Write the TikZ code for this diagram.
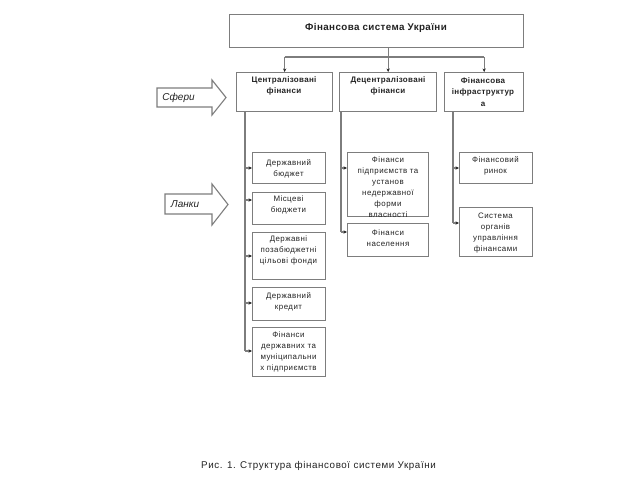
\documentclass[tikz,border=0pt]{standalone}
\usepackage{fontspec}
\setmainfont{Liberation Sans}
\newfontfamily\bxfont[LetterSpace=6]{Liberation Sans}
\newfontfamily\hdfont[LetterSpace=4]{Liberation Sans}
\usetikzlibrary{arrows.meta}
\definecolor{ln}{RGB}{125,125,125}
\definecolor{tx}{RGB}{35,35,35}
\begin{document}
\begin{tikzpicture}[x=1pt,y=-1pt,
  box/.style={draw=ln, line width=1.3pt, inner sep=0pt, anchor=north west},
  txt/.style={inner sep=0pt, align=center, text=tx, font=\bxfont\fontsize{7.9}{11}\selectfont},
  hd/.style={inner sep=0pt, align=center, text=tx, font=\hdfont\bfseries\fontsize{8}{11.5}\selectfont},
  conn/.style={draw=ln, line width=1.2pt, -{Stealth[length=3.5pt,width=3.2pt,color=tx]}},
  wire/.style={draw=ln, line width=1.2pt},
  barrow/.style={draw=ln, line width=1.1pt, fill=white, line join=miter}]
\useasboundingbox (0,0) rectangle (640,480);
\fill[white] (0,0) rectangle (640,480);

% top
\node[box, minimum width=294pt, minimum height=33pt] (top) at (229,14) {};
\node[hd, font=\hdfont\bfseries\fontsize{9.8}{10}\selectfont] (topt) at (376,28) {Фінансова система України};

% level 2
\node[box, minimum width=96pt, minimum height=39pt] (A) at (236,72) {};
\node[box, minimum width=97pt, minimum height=39pt] (B) at (339,72) {};
\node[box, minimum width=79pt, minimum height=39pt] (C) at (444,72) {};
\node[hd] (At) at (284,86) {Централізовані\\фінанси};
\node[hd] (Bt) at (388,86) {Децентралізовані\\фінанси};
\node[hd] (Ct) at (483,92) {Фінансова\\інфраструктур\\а};

\coordinate (bus) at (0,57);
\draw[conn] (top.south -| B.north) -- (B.north);
\draw[wire] (A.north |- bus) -- (C.north |- bus);
\draw[conn] (A.north |- bus) -- (A.north);
\draw[conn] (C.north |- bus) -- (C.north);

% column 1
\node[box, minimum width=73pt, minimum height=31pt] (b1) at (252,152) {};
\node[box, minimum width=73pt, minimum height=32pt] (b2) at (252,192) {};
\node[box, minimum width=73pt, minimum height=47pt] (b3) at (252,232) {};
\node[box, minimum width=73pt, minimum height=33pt] (b4) at (252,287) {};
\node[box, minimum width=73pt, minimum height=49pt] (b5) at (252,327) {};
\node[txt] (b1t) at (288.5,169) {Державний\\бюджет};
\node[txt] (b2t) at (288.5,205) {Місцеві\\бюджети};
\node[txt] (b3t) at (288.5,250) {Державні\\позабюджетні\\цільові фонди};
\node[txt] (b4t) at (288.5,302) {Державний\\кредит};
\node[txt] (b5t) at (288.5,352) {Фінанси\\державних та\\муніципальни\\х підприємств};

\coordinate (c1) at (245,111);
\draw[wire] (c1) -- (c1 |- 0,351);
\draw[conn] (c1 |- 0,168) -- (b1.west |- 0,168);
\draw[conn] (c1 |- 0,200) -- (b2.west |- 0,200);
\draw[conn] (c1 |- 0,256) -- (b3.west |- 0,256);
\draw[conn] (c1 |- 0,303) -- (b4.west |- 0,303);
\draw[conn] (c1 |- 0,351) -- (b5.west |- 0,351);

% column 2
\node[box, minimum width=81pt, minimum height=64pt] (m1) at (347,152) {};
\node[box, minimum width=81pt, minimum height=33pt] (m2) at (347,223) {};
\node[txt] (m1t) at (388,187) {Фінанси\\підприємств та\\установ\\недержавної\\форми\\власності};
\node[txt] (m2t) at (388,238) {Фінанси\\населення};

\coordinate (c2) at (341,111);
\draw[wire] (c2) -- (c2 |- 0,232);
\draw[conn] (c2 |- 0,168) -- (m1.west |- 0,168);
\draw[conn] (c2 |- 0,232) -- (m2.west |- 0,232);

% column 3
\node[box, minimum width=73pt, minimum height=31pt] (r1) at (459,152) {};
\node[box, minimum width=73pt, minimum height=49pt] (r2) at (459,207) {};
\node[txt] (r1t) at (495.5,166) {Фінансовий\\ринок};
\node[txt] (r2t) at (495.5,233) {Система\\органів\\управління\\фінансами};

\coordinate (c3) at (453,111);
\draw[wire] (c3) -- (c3 |- 0,223);
\draw[conn] (c3 |- 0,168) -- (r1.west |- 0,168);
\draw[conn] (c3 |- 0,223) -- (r2.west |- 0,223);

% block arrows
\draw[barrow] (157,88) -- (212,88) -- (212,80) -- (226,97.5) -- (212,115) -- (212,107) -- (157,107) -- cycle;
\node[txt, font=\itshape\fontsize{10}{11}\selectfont] (sf) at (178.5,98) {Сфери};
\draw[barrow] (165,194) -- (212,194) -- (212,184) -- (228,204.5) -- (212,225) -- (212,214) -- (165,214) -- cycle;
\node[txt, font=\itshape\fontsize{10}{11}\selectfont] (lk) at (185,204) {Ланки};

% caption
\node[txt, font=\bxfont\fontsize{9.8}{11}\selectfont] (cap) at (318.5,466) {Рис. 1. Структура фінансової системи України};
\end{tikzpicture}
\end{document}
